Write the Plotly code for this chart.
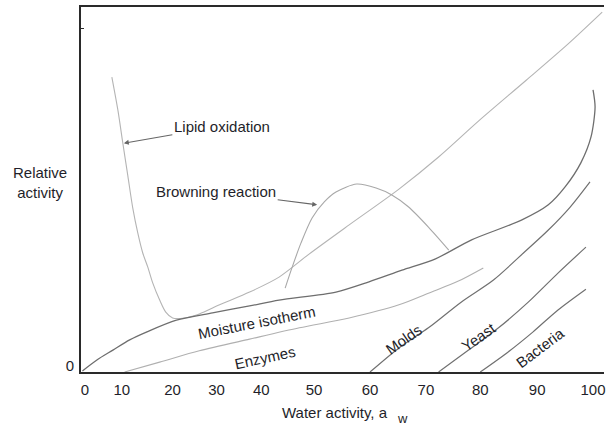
import plotly.graph_objects as go

# x: position along the water-activity axis (0 .. 100), y: relative activity (0 .. 100)
lipid_x = [5.29, 6.47, 7.45, 8.43, 9.41, 10.39, 11.37, 12.35, 13.33, 14.7, 15.9, 17.25, 19.6, 22.5,
           26.5, 32.4, 38.2, 44.1, 52.0, 61.8, 69.6, 77.5, 86.9, 95.1, 101.8]
lipid_y = [80.8, 71.8, 62.7, 53.8, 44.9, 38.1, 32.6, 28.8, 24.4, 19.7, 16.4, 14.8, 14.8, 15.9,
           18.4, 21.9, 26.0, 32.3, 40.3, 50.1, 58.9, 68.8, 80.0, 89.9, 98.6]

browning_x = [39.4, 40.8, 42.5, 44.7, 47.1, 49.4, 53.5, 57.3, 60.4, 63.7, 67.6, 71.6]
browning_y = [23.0, 28.8, 35.3, 42.2, 46.6, 49.3, 51.5, 50.4, 48.5, 45.2, 39.7, 33.4]

isotherm_x = [-0.5, 2.35, 5.5, 8.8, 12.2, 18.0, 25.1, 32.4, 38.2, 49.4, 55.9, 62.4, 69.0, 76.1,
              85.9, 91.2, 94.5, 97.6, 99.6, 100.4, 100.0]
isotherm_y = [0.3, 3.3, 6.0, 8.8, 11.0, 14.2, 16.2, 18.1, 19.7, 21.9, 24.7, 27.9, 31.0, 36.2,
              41.6, 45.8, 50.7, 57.3, 64.4, 72.6, 77.3]

enzymes_x = [7.8, 14.7, 22.5, 32.4, 42.2, 52.0, 61.8, 67.6, 73.5, 78.4]
enzymes_y = [0.0, 2.7, 5.8, 9.0, 12.1, 14.8, 18.4, 21.6, 24.9, 28.5]

molds_x = [56.1, 61.8, 67.6, 74.1, 80.4, 86.3, 91.2, 95.5, 99.4]
molds_y = [0.0, 6.6, 12.1, 19.2, 25.2, 32.6, 38.9, 45.2, 52.1]

yeast_x = [69.6, 75.5, 81.4, 87.3, 93.1, 98.6]
yeast_y = [0.0, 6.0, 12.1, 19.2, 27.1, 34.2]

bacteria_x = [77.8, 83.3, 88.2, 93.1, 98.6]
bacteria_y = [0.0, 5.5, 11.0, 17.0, 22.7]

x_tick_pos = [0, 7.25, 17.25, 25.9, 34.7, 45.1, 56.1, 67.1, 77.8, 89.0, 100]
x_tick_labels = ["0", "10", "20", "30", "40", "50", "60", "70", "80", "90", "100"]
y_tick_pos = [0, 94]
y_tick_labels = ["0", ""]

FONT = "Liberation Sans, Arial, sans-serif"
TXT = "#1f1f2a"
FS = 15

fig = go.Figure()

def add(x, y, color, width):
    fig.add_trace(go.Scatter(x=x, y=y, mode="lines",
                             line=dict(color=color, width=width, shape="spline", smoothing=0.8),
                             hoverinfo="skip", showlegend=False))

add(lipid_x, lipid_y, "#b4b4b4", 1.1)
add(browning_x, browning_y, "#a8a8a8", 1.1)
add(isotherm_x, isotherm_y, "#6e6e6e", 1.3)
add(enzymes_x, enzymes_y, "#b0b0b0", 1.1)
add(molds_x, molds_y, "#707070", 1.2)
add(yeast_x, yeast_y, "#707070", 1.2)
add(bacteria_x, bacteria_y, "#707070", 1.2)

annotations = [
    dict(x=7.65, y=62.7, text="Lipid oxidation", ax=98, ay=-17, showarrow=True,
         arrowhead=2, arrowsize=0.9, arrowwidth=1.1, arrowcolor="#666"),
    dict(x=45.7, y=45.8, text="Browning reaction", ax=-101, ay=-13, showarrow=True,
         arrowhead=2, arrowsize=0.9, arrowwidth=1.1, arrowcolor="#666"),
    dict(x=33.7, y=13.7, text="Moisture isotherm", textangle=-11, showarrow=False),
    dict(x=35.5, y=4.1, text="Enzymes", textangle=-12, showarrow=False),
    dict(x=62.7, y=8.8, text="Molds", textangle=-35, showarrow=False),
    dict(x=77.6, y=9.6, text="Yeast", textangle=-35, showarrow=False),
    dict(x=89.6, y=6.8, text="Bacteria", textangle=-37, showarrow=False),
]
for a in annotations:
    a.update(xref="x", yref="y", font=dict(family=FONT, size=FS, color=TXT))
    fig.add_annotation(**a)

# axis titles
fig.add_annotation(xref="paper", yref="paper", x=-0.078, y=0.518, text="Relative<br>activity",
                   xanchor="center", yanchor="middle",
                   showarrow=False, font=dict(family=FONT, size=FS, color=TXT), align="center")
fig.add_annotation(xref="paper", yref="paper", x=(336 - 81) / 525, y=(372 - 412) / 365,
                   xanchor="center", yanchor="middle",
                   text="Water activity, a", showarrow=False,
                   font=dict(family=FONT, size=FS, color=TXT))
fig.add_annotation(xref="paper", yref="paper", x=(404 - 81) / 525, y=(372 - 418) / 365,
                   xanchor="center", yanchor="middle",
                   text="w", showarrow=False, font=dict(family=FONT, size=13, color=TXT))

fig.update_layout(
    width=606, height=426,
    margin=dict(l=81, r=0, t=7, b=54),
    paper_bgcolor="white", plot_bgcolor="white",
    font=dict(family=FONT, size=FS, color=TXT),
    xaxis=dict(range=[-0.784, 102.157], showgrid=False, zeroline=False,
               showline=True, linecolor="#2a2a2a", linewidth=2, mirror=True,
               tickvals=x_tick_pos, ticktext=x_tick_labels, ticks="",
               ticklabeloverflow="allow",
               ticklabelstandoff=3, tickfont=dict(family=FONT, size=FS, color=TXT)),
    yaxis=dict(range=[0, 100], showgrid=False, zeroline=False,
               showline=True, linecolor="#2a2a2a", linewidth=2, mirror=False,
               tickvals=y_tick_pos, ticktext=y_tick_labels, ticks="inside", ticklen=3,
               tickcolor="#2a2a2a", ticklabelshift=-6, ticklabelstandoff=2,
               tickfont=dict(family=FONT, size=FS, color=TXT)),
)

fig.write_html("out.html",
               config={"displayModeBar": False, "staticPlot": True},
               post_script="document.body.style.margin='0';document.body.style.padding='0';"
                           "document.body.style.overflow='hidden';")
